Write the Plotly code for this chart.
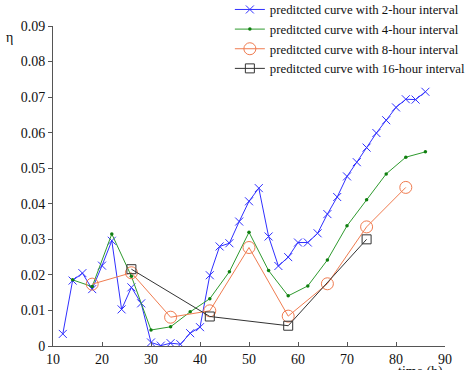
import plotly.graph_objects as go

x2 = [12, 14, 16, 18, 20, 22, 24, 26, 28, 30, 32, 34, 36, 38, 40, 42, 44, 46, 48, 50,
      52, 54, 56, 58, 60, 62, 64, 66, 68, 70, 72, 74, 76, 78, 80, 82, 84, 86]
y2 = [0.0034, 0.0184, 0.0205, 0.0160, 0.0226, 0.0296, 0.0103, 0.0165, 0.0120, 0.0010,
      0.0001, 0.0008, 0.0005, 0.0036, 0.0053, 0.0199, 0.0280, 0.0289, 0.0350, 0.0407,
      0.0444, 0.0308, 0.0225, 0.0250, 0.0291, 0.0291, 0.0317, 0.0371, 0.0419, 0.0477,
      0.0517, 0.0558, 0.0599, 0.0635, 0.0671, 0.0694, 0.0693, 0.0715]
x4 = [14, 18, 22, 26, 30, 34, 38, 42, 46, 50, 54, 58, 62, 66, 70, 74, 78, 82, 86]
y4 = [0.0186, 0.0167, 0.0315, 0.0196, 0.0045, 0.0054, 0.0096, 0.0133, 0.0209, 0.0320,
      0.0212, 0.0141, 0.0169, 0.0242, 0.0338, 0.0411, 0.0484, 0.0531, 0.0546]
x8 = [18, 26, 34, 42, 50, 58, 66, 74, 82]
y8 = [0.0174, 0.0206, 0.0081, 0.0099, 0.0277, 0.0084, 0.0175, 0.0335, 0.0446]
x16 = [26, 42, 58, 74]
y16 = [0.0216, 0.0083, 0.0057, 0.0300]

names = ["preditcted curve with 2-hour interval", "preditcted curve with 4-hour interval",
         "preditcted curve with 8-hour interval", "preditcted curve with 16-hour interval"]
xticks = [10, 20, 30, 40, 50, 60, 70, 80, 90]
yticks = [0, 0.01, 0.02, 0.03, 0.04, 0.05, 0.06, 0.07, 0.08, 0.09]

FONT = "Liberation Serif"

fig = go.Figure()
fig.add_trace(go.Scatter(x=x2, y=y2, name=names[0], mode="lines+markers",
                         line=dict(color="#3030ff", width=1),
                         marker=dict(symbol="x-thin-open", size=8, color="#3030ff",
                                     line=dict(width=1, color="#3030ff"))))
fig.add_trace(go.Scatter(x=x4, y=y4, name=names[1], mode="lines+markers",
                         line=dict(color="#2e9a2e", width=1),
                         marker=dict(symbol="circle", size=3.5, color="#0f7f0f")))
fig.add_trace(go.Scatter(x=x8, y=y8, name=names[2], mode="lines+markers",
                         line=dict(color="#f07c50", width=1),
                         marker=dict(symbol="circle-open", size=12, color="#f07c50",
                                     line=dict(width=1))))
fig.add_trace(go.Scatter(x=x16, y=y16, name=names[3], mode="lines+markers",
                         line=dict(color="#333333", width=1),
                         marker=dict(symbol="square-open", size=9, color="#333333",
                                     line=dict(width=1))))

fig.update_layout(
    width=466, height=370,
    margin=dict(l=53, r=21, t=26, b=24, autoexpand=False),
    paper_bgcolor="white", plot_bgcolor="white",
    font=dict(family=FONT, size=14, color="#111111"),
    showlegend=True,
    legend=dict(x=1.066, xanchor="right", y=1.098, yanchor="top",
                bgcolor="rgba(0,0,0,0)", font=dict(family=FONT, size=12.8, color="#111111"),
                tracegroupgap=0, itemwidth=30),
    xaxis=dict(range=[10, 90], tickvals=xticks, ticks="inside", ticklen=4,
               tickcolor="#555555", showline=True, linecolor="#555555", linewidth=1,
               showgrid=False, zeroline=False, tickfont=dict(size=14, family=FONT)),
    yaxis=dict(range=[0, 0.09], tickvals=yticks, ticks="outside", ticklen=4,
               tickcolor="#555555", showline=True, linecolor="#555555", linewidth=1,
               showgrid=False, zeroline=False, tickfont=dict(size=14, family=FONT)),
    annotations=[
        dict(text="η", xref="paper", yref="paper", x=-0.11, y=0.965, showarrow=False,
             xanchor="center", yanchor="middle", font=dict(family=FONT, size=14)),
        dict(text="time (h)", xref="paper", yref="paper", x=1.0, y=-0.05, showarrow=False,
             xanchor="right", yanchor="top", font=dict(family=FONT, size=14)),
    ],
)

fig.write_html("out.html", config={"displayModeBar": False},
               post_script="document.body.style.margin='0';document.body.style.overflow='hidden';")
